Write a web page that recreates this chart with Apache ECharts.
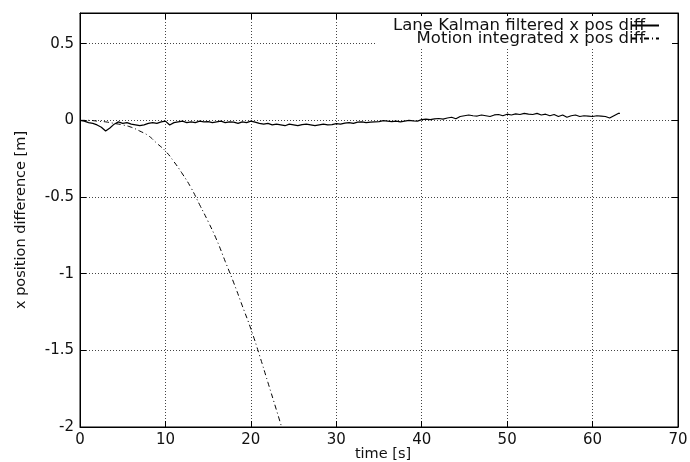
<!DOCTYPE html>
<html><head><meta charset="utf-8">
<script src="https://cdn.jsdelivr.net/npm/echarts@6/dist/echarts.min.js"></script>
<style>html,body{margin:0;padding:0;background:#fff}#c{width:690px;height:462px}</style>
</head><body><div id="c"></div>
<script>
const xTicks = [0, 10, 20, 30, 40, 50, 60, 70];
const yTicks = [-2, -1.5, -1, -0.5, 0, 0.5];
const seriesNames = ['Lane Kalman filtered x pos diff', 'Motion integrated x pos diff'];

const kalmanTime = [0,0.5,1,1.5,2,2.5,3,3.5,4,4.5,5,5.5,6,6.5,7,7.5,8,8.5,9,9.5,10,10.5,11,11.5,12,12.5,13,13.5,14,14.5,15,15.5,16,16.5,17,17.5,18,18.5,19,19.5,20,20.5,21,21.5,22,22.5,23,23.5,24,24.5,25,25.5,26,26.5,27,27.5,28,28.5,29,29.5,30,30.5,31,31.5,32,32.5,33,33.5,34,34.5,35,35.5,36,36.5,37,37.5,38,38.5,39,39.5,40,40.5,41,41.5,42,42.5,43,43.5,44,44.5,45,45.5,46,46.5,47,47.5,48,48.5,49,49.5,50,50.5,51,51.5,52,52.5,53,53.5,54,54.5,55,55.5,56,56.5,57,57.5,58,58.5,59,59.5,60,60.5,61,61.5,62,62.5,63,63.2];
const kalmanDiff = [0.000,-0.005,-0.015,-0.020,-0.030,-0.045,-0.070,-0.050,-0.025,-0.010,-0.020,-0.015,-0.025,-0.030,-0.035,-0.030,-0.020,-0.015,-0.020,-0.010,-0.005,-0.030,-0.015,-0.010,-0.005,-0.015,-0.010,-0.015,-0.005,-0.010,-0.008,-0.015,-0.010,-0.005,-0.015,-0.010,-0.012,-0.020,-0.010,-0.015,-0.005,-0.012,-0.020,-0.025,-0.020,-0.030,-0.025,-0.030,-0.035,-0.025,-0.030,-0.035,-0.028,-0.025,-0.030,-0.035,-0.030,-0.025,-0.030,-0.028,-0.022,-0.025,-0.018,-0.015,-0.020,-0.012,-0.010,-0.015,-0.012,-0.010,-0.008,-0.002,-0.005,-0.008,-0.005,-0.010,-0.005,0.000,-0.003,-0.005,0.005,0.008,0.005,0.010,0.012,0.008,0.015,0.020,0.010,0.025,0.030,0.035,0.030,0.028,0.035,0.030,0.025,0.035,0.038,0.030,0.040,0.035,0.042,0.038,0.045,0.040,0.038,0.045,0.035,0.040,0.030,0.038,0.025,0.035,0.020,0.030,0.035,0.025,0.030,0.028,0.025,0.030,0.028,0.025,0.015,0.030,0.045,0.045];

const motionTime = [0,1,2,3,4,5,6,7,8,9,10,11,12,13,14,15,16,17,18,19,20,21,22,23,23.6];
const motionDiff = [0,0,-0.005,-0.01,-0.02,-0.03,-0.045,-0.07,-0.1,-0.15,-0.2,-0.27,-0.35,-0.44,-0.55,-0.66,-0.78,-0.92,-1.06,-1.21,-1.36,-1.53,-1.71,-1.89,-2.0];

const FONT = 'DejaVu Sans';
const chart = echarts.init(document.getElementById('c'), null, {renderer: 'canvas'});
const gridLine = {show: true, lineStyle: {color: '#444', type: [1, 2], width: 1}};
const tickIn = {show: true, inside: true, length: 6, lineStyle: {color: '#000', width: 1}};
chart.setOption({
  animation: false,
  backgroundColor: '#fff',
  grid: {left: 80, right: 12, top: 13, bottom: 35, show: true, borderColor: '#000', borderWidth: 1,
         containLabel: false, outerBoundsMode: 'none'},
  legend: {
    orient: 'vertical', right: 18, top: 16, align: 'right',
    backgroundColor: '#fff', padding: [1, 12, 1, 18], itemGap: -4,
    itemWidth: 27, itemHeight: 12,
    itemStyle: {opacity: 0},
    textStyle: {fontFamily: FONT, fontSize: 16.5, lineHeight: 12, color: '#111', padding: [0, -18, 0, 0]},
    data: seriesNames
  },
  xAxis: [{
    type: 'value', min: xTicks[0], max: xTicks[xTicks.length - 1], interval: 10,
    axisLine: {show: true, onZero: false, lineStyle: {color: '#000', width: 1}},
    axisTick: tickIn, splitLine: gridLine,
    axisLabel: {fontFamily: FONT, fontSize: 15, color: '#111', margin: 6},
    name: 'time [s]', nameLocation: 'middle', nameGap: 20, nameMoveOverlap: false,
    nameTextStyle: {fontFamily: FONT, fontSize: 14.5, color: '#111', padding: [0, 0, 0, 8]}
  }, {
    type: 'value', position: 'top', min: 0, max: 70, interval: 10,
    axisLine: {show: true, onZero: false, lineStyle: {color: '#000'}}, axisTick: tickIn,
    axisLabel: {show: false}, splitLine: {show: false}
  }],
  yAxis: [{
    type: 'value', min: yTicks[0], max: 0.7, interval: 0.5,
    axisLine: {show: true, onZero: false, lineStyle: {color: '#000', width: 1}},
    axisTick: tickIn, splitLine: gridLine,
    axisLabel: {fontFamily: FONT, fontSize: 15, color: '#111', margin: 6,
      formatter: v => yTicks.some(t => Math.abs(t - v) < 1e-9) ? String(v) : ''},
    name: 'x position difference [m]', nameLocation: 'middle', nameGap: 51, nameMoveOverlap: false,
    nameTextStyle: {fontFamily: FONT, fontSize: 14.5, color: '#111'}
  }, {
    type: 'value', position: 'right', min: -2, max: 0.7, interval: 0.5,
    axisLine: {show: true, onZero: false, lineStyle: {color: '#000'}}, axisTick: tickIn,
    axisLabel: {show: false}, splitLine: {show: false}
  }],
  series: [{
    name: seriesNames[0], type: 'line', xAxisIndex: 0, yAxisIndex: 0,
    showSymbol: false, symbol: 'none',
    lineStyle: {color: '#000', width: 1.2, type: 'solid'},
    itemStyle: {color: '#000'},
    data: kalmanTime.map((t, i) => [t, kalmanDiff[i]])
  }, {
    name: seriesNames[1], type: 'line', xAxisIndex: 0, yAxisIndex: 0,
    showSymbol: false, symbol: 'none', smooth: true,
    lineStyle: {color: '#000', width: 1, type: [5, 3, 1, 3]},
    itemStyle: {color: '#000'},
    data: motionTime.map((t, i) => [t, motionDiff[i]])
  }]
});
</script></body></html>
